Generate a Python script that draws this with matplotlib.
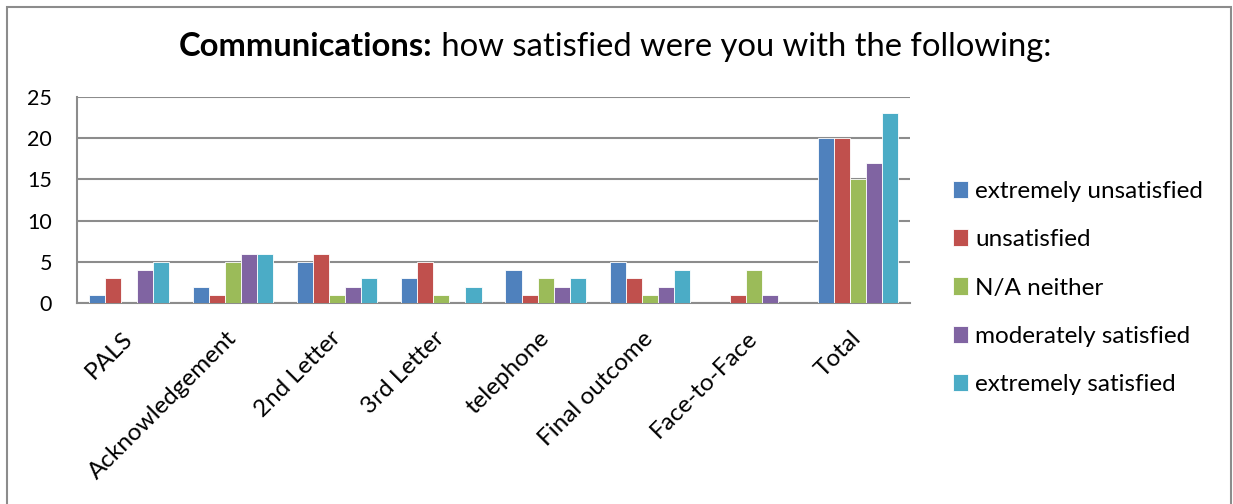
""" Grouped bar chart: communications satisfaction survey """

import numpy as np
import matplotlib.pyplot as plt
from matplotlib.patches import Rectangle

plt.rcParams['font.family'] = ['Lato', 'DejaVu Sans']

# categories and responses
categories = ['PALS', 'Acknowledgement', '2nd Letter', '3rd Letter',
              'telephone', 'Final outcome', 'Face-to-Face', 'Total']
series_names = ['extremely unsatisfied', 'unsatisfied', 'N/A neither',
                'moderately satisfied', 'extremely satisfied']
extremely_unsatisfied = [1, 2, 5, 3, 4, 5, 0, 20]
unsatisfied = [3, 1, 6, 5, 1, 3, 1, 20]
na_neither = [0, 5, 1, 1, 3, 1, 4, 15]
moderately_satisfied = [4, 6, 2, 0, 2, 2, 1, 17]
extremely_satisfied = [5, 6, 3, 2, 3, 4, 0, 23]
yticks = [0, 5, 10, 15, 20, 25]

colors = ['#4F81BD', '#C0504D', '#9BBB59', '#8064A2', '#4BACC6']
series = [extremely_unsatisfied, unsatisfied, na_neither,
          moderately_satisfied, extremely_satisfied]

fig = plt.figure(figsize=(12.33, 5.04), dpi=100)
ax = fig.add_axes([77 / 1233, 1 - 303 / 504, 833 / 1233, 206 / 504])

x = np.arange(len(categories))
w = 0.154
for i, (vals, name, c) in enumerate(zip(series, series_names, colors)):
    ax.bar(x + (i - 2) * w, vals, width=w, color=c, edgecolor='white',
           linewidth=0.6, label=name, zorder=3)

ax.set_xlim(-0.5, len(categories) - 0.5)
ax.set_ylim(0, 25)
ax.set_yticks(yticks)
ax.grid(axis='y', color='#8c8c8c', linewidth=1.5, zorder=0)
ax.tick_params(axis='both', length=0)
ax.tick_params(axis='y', pad=18, labelsize=15.5)
ax.set_xticks(x)
ax.set_xticklabels(categories, rotation=45, ha='right', va='center',
                   rotation_mode='anchor')
ax.tick_params(axis='x', pad=23, labelsize=17.5)
for s in ['top', 'right']:
    ax.spines[s].set_visible(False)
for s in ['left', 'bottom']:
    ax.spines[s].set_color('#8c8c8c')
    ax.spines[s].set_linewidth(1.5)

handles, labels = ax.get_legend_handles_labels()
fig.legend(handles, labels, loc='center left',
           bbox_to_anchor=(953 / 1233, 1 - 288 / 504),
           bbox_transform=fig.transFigure, frameon=False, borderpad=0,
           borderaxespad=0, fontsize=17.5, handlelength=0.62,
           handleheight=0.7, handletextpad=0.3, labelspacing=1.12)

# title: bold lead-in + regular remainder, centred as a whole
t1 = fig.text(0, 1 - 47 / 504, 'Communications:', ha='left', va='center',
              fontsize=23.6, fontweight='bold')
t2 = fig.text(0, 1 - 47 / 504, ' how satisfied were you with the following:',
              ha='left', va='center', fontsize=23.6)
r = fig.canvas.get_renderer()
w1 = t1.get_window_extent(r).width
w2 = t2.get_window_extent(r).width
x0 = 615 - (w1 + w2) / 2
t1.set_x(x0 / 1233)
t2.set_x((x0 + w1) / 1233)

# outer chart border
fig.patches.append(Rectangle((7 / 1233, -0.1), 1224 / 1233, 1.1 - 7 / 504,
                             transform=fig.transFigure, fill=False,
                             edgecolor='#8c8c8c', linewidth=1.5))

plt.savefig('out.png', dpi=100)
